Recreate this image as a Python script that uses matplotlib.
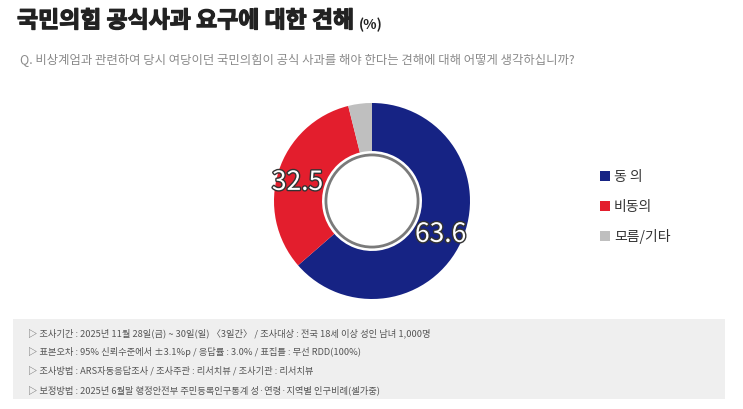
import matplotlib.pyplot as plt
import matplotlib.patheffects as pe
from matplotlib.patches import Circle, Rectangle

plt.rcParams['font.family'] = ['Noto Sans CJK KR', 'DejaVu Sans']

labels = ["동 의", "비동의", "모름/기타"]
values = [63.6, 32.5, 3.9]
colors = ["#162384", "#e31e2d", "#bfbfbf"]
title = "국민의힘 공식사과 요구에 대한 견해"
question = "Q. 비상계엄과 관련하여 당시 여당이던 국민의힘이 공식 사과를 해야 한다는 견해에 대해 어떻게 생각하십니까?"
notes = [
    "▷ 조사기간 : 2025년 11월 28일(금) ~ 30일(일) 〈3일간〉 / 조사대상 : 전국 18세 이상 성인 남녀 1,000명",
    "▷ 표본오차 : 95% 신뢰수준에서 ±3.1%p / 응답률 : 3.0% / 표집틀 : 무선 RDD(100%)",
    "▷ 조사방법 : ARS자동응답조사 / 조사주관 : 리서치뷰 / 조사기관 : 리서치뷰",
    "▷ 보정방법 : 2025년 6월말 행정안전부 주민등록인구통계 성·연령·지역별 인구비례(셀가중)",
]

W, H = 743, 410
fig = plt.figure(figsize=(7.43, 4.10), dpi=100)
fig.patch.set_facecolor("white")

# title + question (pixel coords -> figure fraction)
heavy = [pe.withStroke(linewidth=0.9, foreground="#222222")]
fig.text(17 / W, 1 - 22 / H, title, fontsize=16.5, fontweight="bold",
         color="#222222", va="center", ha="left", path_effects=heavy)
fig.text(359 / W, 1 - 25 / H, "(%)", fontsize=10, fontweight="bold",
         color="#222222", va="center", ha="left")
fig.text(20 / W, 1 - 60 / H, question, fontsize=8.9, color="#8a8a8a",
         va="center", ha="left")

# donut
cx, cy, r = 372, 202, 98
ax = fig.add_axes([(cx - r) / W, 1 - (cy + r) / H, 2 * r / W, 2 * r / H])
wedges, _ = ax.pie(values, colors=colors, startangle=90, counterclock=False,
                   radius=1.0, wedgeprops=dict(width=0.49, linewidth=0))
ax.add_patch(Circle((0, 0), 0.47, facecolor="white", edgecolor="#7a7a7a",
                    linewidth=2.0, zorder=5))
ax.set_xlim(-1, 1)
ax.set_ylim(-1, 1)
ax.set_aspect("equal")
ax.axis("off")

stroke = [pe.withStroke(linewidth=2, foreground="#333333")]
ax.text(0.70, -0.34, f"{values[0]}", fontsize=19, color="white",
        ha="center", va="center", zorder=6, path_effects=stroke)
ax.text(-0.76, 0.19, f"{values[1]}", fontsize=19, color="white",
        ha="center", va="center", zorder=6, path_effects=stroke)

# legend
for i, (lab, col) in enumerate(zip(labels, colors)):
    y = 177 + 30 * i
    fig.patches.append(Rectangle((600 / W, 1 - (y + 5) / H), 10 / W, 10 / H,
                                 transform=fig.transFigure, facecolor=col,
                                 edgecolor="none"))
    fig.text(614 / W, 1 - y / H, lab, fontsize=10, color="#333333",
             va="center", ha="left")

# footer box
fig.patches.append(Rectangle((13 / W, 1 - 400 / H), 712 / W, 80 / H,
                             transform=fig.transFigure, facecolor="#efefef",
                             edgecolor="none"))
for i, line in enumerate(notes):
    fig.text(28 / W, 1 - (333 + 19 * i) / H, line, fontsize=6.7,
             color="#555555", va="center", ha="left")

fig.savefig("out.png", dpi=100)
